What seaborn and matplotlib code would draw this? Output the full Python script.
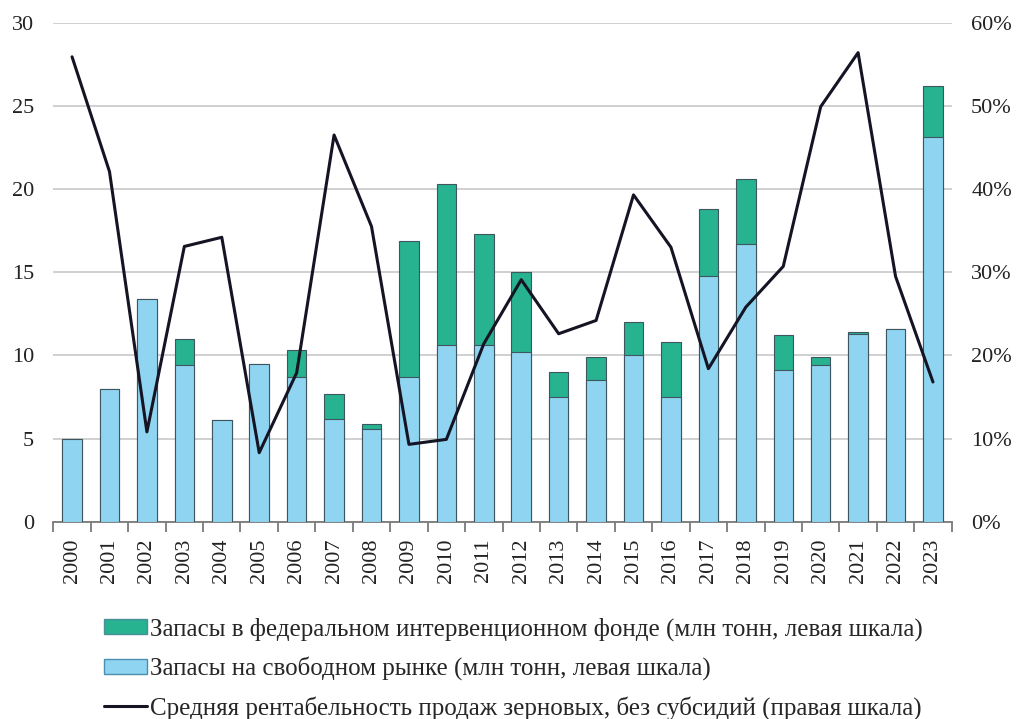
import numpy as np
import pandas as pd
import matplotlib
matplotlib.use("Agg")
import matplotlib.pyplot as plt
from matplotlib.patches import Patch
from matplotlib.lines import Line2D
from matplotlib.ticker import FuncFormatter, MultipleLocator
import seaborn as sns

years = [str(y) for y in range(2000, 2024)]
free_market = [5.0, 8.0, 13.4, 9.4, 6.1, 9.5, 8.7, 6.2, 5.6, 8.7, 10.6, 10.6,
               10.2, 7.5, 8.5, 10.0, 7.5, 14.8, 16.7, 9.1, 9.4, 11.3, 11.6, 23.1]
intervention_fund = [0.0, 0.0, 0.0, 1.6, 0.0, 0.0, 1.6, 1.5, 0.3, 8.2, 9.7, 6.7,
                     4.8, 1.5, 1.4, 2.0, 3.3, 4.0, 3.9, 2.1, 0.5, 0.1, 0.0, 3.1]
profitability = [55.9, 42.1, 10.8, 33.1, 34.2, 8.3, 17.9, 46.5, 35.5, 9.3, 9.9, 21.4,
                 29.1, 22.6, 24.2, 39.3, 33.0, 18.4, 25.8, 30.7, 49.9, 56.4, 29.5, 16.8]

label_fund = "Запасы в федеральном интервенционном фонде (млн тонн, левая шкала)"
label_free = "Запасы на свободном рынке (млн тонн, левая шкала)"
label_line = "Средняя рентабельность продаж зерновых, без субсидий (правая шкала)"

GREEN = "#27b38f"
BLUE = "#8fd4f0"
EDGE = "#3f5560"
LINE = "#141424"

df = pd.DataFrame({
    "year": years,
    "free": free_market,
    "fund": intervention_fund,
    "profit": profitability,
})
df["total"] = df["free"] + df["fund"]
df["pos"] = np.arange(len(df))

sns.set_theme(style="white")
plt.rcParams["font.family"] = ["Liberation Serif", "DejaVu Serif"]

fig = plt.figure(figsize=(10.16, 7.19), dpi=100)
ax = fig.add_axes([0.0525, 0.2744, 0.8842, 0.694])

# stacked bars: full height in green, free-market part in blue on top of it
sns.barplot(data=df, x="year", y="total", color=GREEN, width=0.52,
            edgecolor=EDGE, linewidth=0.8, saturation=1, ax=ax, zorder=2)
sns.barplot(data=df, x="year", y="free", color=BLUE, width=0.52,
            edgecolor=EDGE, linewidth=0.8, saturation=1, ax=ax, zorder=3)

ax.set_xlim(-0.5, len(years) - 0.5)
ax.set_ylim(0, 30)
ax.yaxis.set_major_locator(MultipleLocator(5))
ax.grid(axis="y", color="#c4c4c4", linewidth=1.1, zorder=0)
ax.set_axisbelow(True)
ax.set_xlabel("")
ax.set_ylabel("")
for side in ["left", "right", "top"]:
    ax.spines[side].set_visible(False)
ax.spines["bottom"].set_color("#7a7a7a")
ax.spines["bottom"].set_linewidth(1.3)

ax.set_xticks(np.arange(len(years)))
ax.set_xticklabels(years, rotation=90, fontsize=16, color="#222222")
ax.set_xticks(np.arange(-0.5, len(years)), minor=True)
ax.tick_params(axis="x", which="major", length=0, pad=12)
ax.tick_params(axis="x", which="minor", length=7, width=1.3, color="#7a7a7a",
               bottom=True)
ax.tick_params(axis="y", length=0, labelsize=16, pad=14, colors="#222222")

# profitability line on the right scale
ax2 = ax.twinx()
sns.lineplot(data=df, x="pos", y="profit", color=LINE, linewidth=2.2, ax=ax2,
             zorder=5)
ax2.set_ylim(0, 60)
ax2.set_xlim(-0.5, len(years) - 0.5)
ax2.yaxis.set_major_locator(MultipleLocator(10))
ax2.yaxis.set_major_formatter(FuncFormatter(lambda v, _: f"{v:.0f}%"))
ax2.tick_params(axis="y", length=0, labelsize=16, pad=14, colors="#222222")
ax2.set_xlabel("")
ax2.set_ylabel("")
ax2.grid(False)
for side in ["left", "right", "top", "bottom"]:
    ax2.spines[side].set_visible(False)

handles = [
    Patch(facecolor=GREEN, edgecolor="#4a8f9a", linewidth=1.0),
    Patch(facecolor=BLUE, edgecolor="#4a8fb0", linewidth=1.0),
    Line2D([0], [0], color=LINE, linewidth=2.2),
]
fig.legend(handles, [label_fund, label_free, label_line],
           loc="upper left", bbox_to_anchor=(0.102, 0.141),
           bbox_transform=fig.transFigure, frameon=False,
           fontsize=18, handlelength=1.75, handleheight=0.55,
           handletextpad=0.1, labelspacing=0.62, borderaxespad=0,
           borderpad=0)

fig.savefig("out.png", dpi=100)
